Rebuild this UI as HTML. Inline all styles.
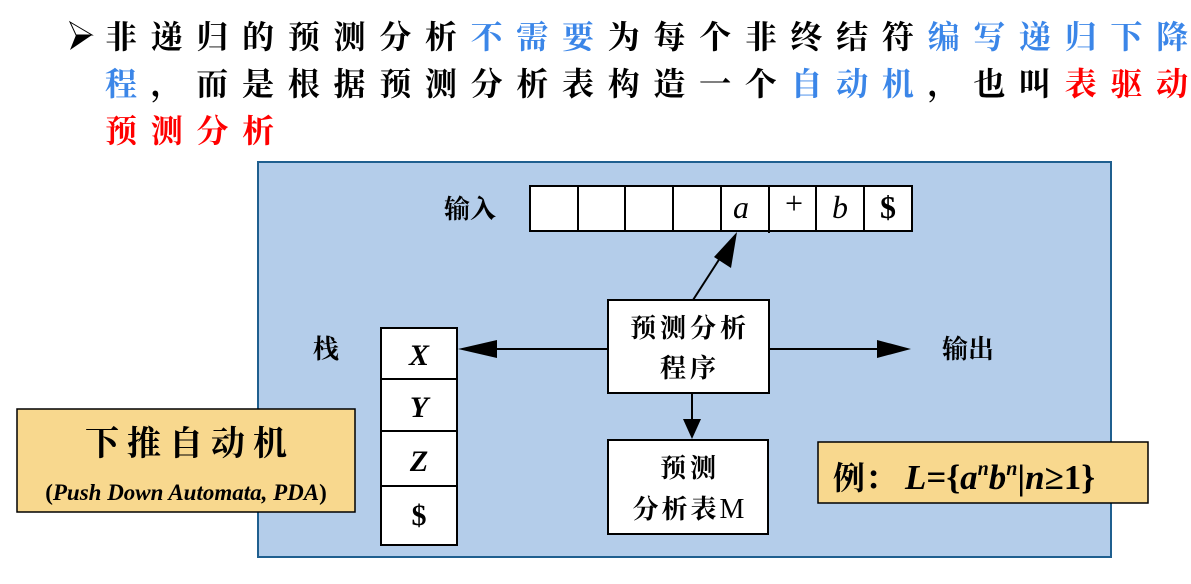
<!DOCTYPE html>
<html><head><meta charset="utf-8"><style>
html,body{margin:0;padding:0;background:#fff;}
body{width:1191px;height:584px;overflow:hidden;position:relative;font-family:"Liberation Serif","Noto Serif CJK SC",serif;}
.t{position:absolute;left:105px;font-size:32px;letter-spacing:13.7px;line-height:47px;color:#000;font-weight:bold;white-space:nowrap;font-family:"Liberation Serif","Noto Serif CJK SC",serif;}
.b{color:#3b86e8}.r{color:#f00}
</style></head><body>
<svg width="1191" height="584" style="position:absolute;left:0;top:0" font-family="Liberation Serif, Noto Serif CJK SC, serif">
<polygon points="70,22 92,35 70,50 76,35" fill="#000"/>
<polygon points="70,22 92,35 76,35" fill="#fff" stroke="#000" stroke-width="1"/>
<rect x="258" y="162" width="853" height="395" fill="#b4cdea" stroke="#1f5f8f" stroke-width="2"/>
<g fill="#fff" stroke="#000" stroke-width="2">
<rect x="530" y="186" width="382" height="45"/>
<rect x="381" y="328" width="76" height="217"/>
<rect x="608" y="300" width="161" height="93"/>
<rect x="608" y="440" width="160" height="94"/>
</g>
<g stroke="#000" stroke-width="2">
<line x1="578" y1="186" x2="578" y2="231"/><line x1="625" y1="186" x2="625" y2="231"/>
<line x1="673" y1="186" x2="673" y2="231"/><line x1="721" y1="186" x2="721" y2="231"/>
<line x1="769" y1="186" x2="769" y2="233"/><line x1="816" y1="186" x2="816" y2="231"/>
<line x1="864" y1="186" x2="864" y2="231"/>
<line x1="381" y1="379" x2="457" y2="379"/><line x1="381" y1="431" x2="457" y2="431"/><line x1="381" y1="486" x2="457" y2="486"/>
<line x1="693" y1="300" x2="722" y2="255"/>
<line x1="608" y1="349" x2="490" y2="349"/>
<line x1="769" y1="349" x2="880" y2="349"/>
<line x1="692" y1="393" x2="692" y2="420"/>
</g>
<polygon points="737,232 731,268 714,257" fill="#000"/>
<polygon points="458,349 497,340 497,358" fill="#000"/>
<polygon points="911,349 877,340 877,358" fill="#000"/>
<polygon points="692,439 683,419 701,419" fill="#000"/>
<g font-size="32" text-anchor="middle">
<text x="741" y="218" font-style="italic">a</text>
<text x="794" y="214">+</text>
<text x="840" y="218" font-style="italic">b</text>
<text x="888" y="218" font-weight="bold">$</text>
</g>
<g font-size="30" text-anchor="middle" font-weight="bold" font-style="italic">
<text x="419" y="365">X</text><text x="419" y="417">Y</text><text x="419" y="471">Z</text>
<text x="419" y="525" font-style="normal">$</text>
</g>
<g font-size="26" font-family="Noto Serif CJK SC, serif" font-weight="bold">
<text x="444" y="218">输入</text>
<text x="313" y="358">栈</text>
<text x="942" y="358">输出</text>
<text x="690" y="337" text-anchor="middle" letter-spacing="4">预测分析</text>
<text x="690" y="377" text-anchor="middle" letter-spacing="4">程序</text>
<text x="690" y="477" text-anchor="middle" letter-spacing="4">预测</text>
<text x="690" y="518" text-anchor="middle" letter-spacing="3">分析表<tspan font-family="Liberation Serif" font-weight="normal" font-size="28">M</tspan></text>
</g>
<rect x="17" y="409" width="338" height="103" fill="#f8d88e" stroke="#000" stroke-width="1.5"/>
<text x="190" y="455" font-size="34" text-anchor="middle" font-family="Noto Serif CJK SC, serif" letter-spacing="8" font-weight="bold">下推自动机</text>
<text x="186" y="500" font-size="23" text-anchor="middle" font-weight="bold">(<tspan font-style="italic">Push Down Automata, PDA</tspan>)</text>
<rect x="818" y="442" width="330" height="61" fill="#f8d88e" stroke="#000" stroke-width="1.5"/>
<text x="833" y="489" font-size="35" font-weight="bold"><tspan font-family="Noto Serif CJK SC, serif" font-size="32">例：</tspan><tspan font-style="italic" dx="8">L</tspan>={<tspan font-style="italic">a</tspan><tspan font-style="italic" font-size="20" dy="-14">n</tspan><tspan font-style="italic" dy="14">b</tspan><tspan font-style="italic" font-size="20" dy="-14">n</tspan><tspan dy="14">|</tspan><tspan font-style="italic">n</tspan>≥1}</text>
</svg>
<div class="t" style="top:14px">非递归的预测分析<span class="b">不需要</span>为每个非终结符<span class="b">编写递归下降过</span></div>
<div class="t" style="top:61px"><span class="b">程</span>，而是根据预测分析表构造一个<span class="b">自动机</span>，也叫<span class="r">表驱动的</span></div>
<div class="t" style="top:108px"><span class="r">预测分析</span></div>
</body></html>
